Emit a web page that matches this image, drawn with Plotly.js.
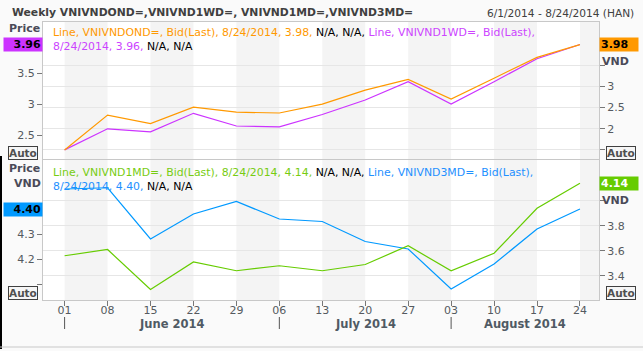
<!DOCTYPE html>
<html><head><meta charset="utf-8">
<script src="https://cdn.plot.ly/plotly-3.0.1.min.js"></script>
<style>html,body{margin:0;padding:0;background:#fafafa;}#c{width:643px;height:351px;}</style>
</head><body><div id="c"></div>
<script>
// ---- data ----
const dates = ['2014-06-01','2014-06-08','2014-06-15','2014-06-22','2014-06-29','2014-07-06','2014-07-13','2014-07-20','2014-07-27','2014-08-03','2014-08-10','2014-08-17','2014-08-24'];
const dayLabels = ['01','08','15','22','29','06','13','20','27','03','10','17','24'];
const months = ['June 2014','July 2014','August 2014'];
const vnivndond = [1.50, 2.32, 2.12, 2.51, 2.39, 2.37, 2.58, 2.91, 3.16, 2.70, 3.19, 3.68, 3.98];
const vnivnd1wd = [2.26, 2.60, 2.55, 2.85, 2.645, 2.63, 2.83, 3.065, 3.36, 3.00, 3.36, 3.73, 3.96];
const vnivnd1md = [3.56, 3.61, 3.29, 3.51, 3.44, 3.48, 3.44, 3.49, 3.64, 3.44, 3.58, 3.94, 4.14];
const vnivnd3md = [4.48, 4.485, 4.28, 4.38, 4.43, 4.36, 4.35, 4.27, 4.24, 4.08, 4.18, 4.32, 4.40];
const names = ['VNIVNDOND=','VNIVND1WD=','VNIVND1MD=','VNIVND3MD='];

// ---- style ----
const C = {ond:'#ff9900', w1:'#cc33ff', m1:'#66cc00', m3:'#0099ff'};
const F = 'DejaVu Sans';
const W=643, H=351, L=43, R=599, T=22, B=300;
const px2x = p => (p-L)/(R-L);
const py2y = p => (B-p)/(B-T);
const xRange = ['2014-05-28 11:30','2014-08-27 02:30'];
const tickFont = {family:F, size:11, color:'#555a60'};

function fmtDate(d){const [y,m,dd]=d.split('-');return (+m)+'/'+(+dd)+'/'+y;}
const lastDate = fmtDate(dates[dates.length-1]);
const last = a => a[a.length-1];

const traces = [
  {x:dates, y:vnivnd1wd, xaxis:'x2', yaxis:'y', type:'scatter', mode:'lines', line:{color:C.w1, width:1.2}, hoverinfo:'skip'},
  {x:dates, y:vnivndond, xaxis:'x2', yaxis:'y2', type:'scatter', mode:'lines', line:{color:C.ond, width:1.2}, hoverinfo:'skip'},
  {x:dates, y:vnivnd3md, xaxis:'x', yaxis:'y3', type:'scatter', mode:'lines', line:{color:C.m3, width:1.2}, hoverinfo:'skip'},
  {x:dates, y:vnivnd1md, xaxis:'x', yaxis:'y4', type:'scatter', mode:'lines', line:{color:C.m1, width:1.2}, hoverinfo:'skip'},
];

// shading bands (alternate weeks) from the dates array
const shapes = [];
for (let i=0;i<dates.length;i+=2){
  const x1 = i+1<dates.length ? dates[i+1] : '2014-08-31';
  shapes.push({type:'rect', xref:'x2', yref:'y domain', x0:dates[i], x1:x1, y0:0, y1:1, fillcolor:'#f4f4f4', line:{width:0}, layer:'below'});
  shapes.push({type:'rect', xref:'x', yref:'y3 domain', x0:dates[i], x1:x1, y0:0, y1:1, fillcolor:'#f4f4f4', line:{width:0}, layer:'below'});
}
// month separators
const monthStarts = [];
dates.forEach((d,i)=>{const m=d.slice(0,7); if(!monthStarts.find(s=>s.m===m)) monthStarts.push({m, d});});
monthStarts.forEach(s=>{
  shapes.push({type:'line', xref:'x', yref:'paper', x0:s.d, x1:s.d, y0:py2y(317), y1:py2y(329), line:{color:'#555555', width:1}});
});
// frame lines
shapes.push({type:'line', xref:'paper', yref:'paper', x0:px2x(1), x1:px2x(1), y0:py2y(156), y1:py2y(349), line:{color:'#000000', width:2}});
shapes.push({type:'line', xref:'paper', yref:'paper', x0:px2x(0), x1:px2x(643), y0:py2y(347), y1:py2y(347), line:{color:'#c8c8c8', width:1}});

const annotations = [];
const ms = t => new Date(t.replace(' ','T')+'Z').getTime();
monthStarts.forEach((s,i)=>{
  const a = ms(s.d), b = i+1<monthStarts.length ? ms(monthStarts[i+1].d) : ms(xRange[1]);
  const mid = new Date((a+b)/2).toISOString().replace('T',' ').slice(0,19);
  annotations.push({xref:'x', yref:'paper', x:mid, y:py2y(323.5), xanchor:'center', yanchor:'middle', text:'<b>'+months[i]+'</b>', showarrow:false, font:{family:F, size:11.5, color:'#505a64'}});
});

// header
annotations.push({xref:'paper', yref:'paper', x:px2x(10), y:py2y(13), xanchor:'left', yanchor:'middle', showarrow:false,
  text:'<b>Weekly '+names[0]+','+names[1]+', '+names[2]+','+names[3]+'</b>', font:{family:F, size:10.8, color:'#404040'}});
annotations.push({xref:'paper', yref:'paper', x:px2x(636), y:py2y(13), xanchor:'right', yanchor:'middle', showarrow:false,
  text:fmtDate(dates[0])+' - '+lastDate+' (HAN)', font:{family:F, size:10.6, color:'#404040'}});

// in-chart legends
function sp(c,t){return '<span style="color:'+c+'">'+t+'</span>';}
const topLeg = sp(C.ond,'Line, '+names[0]+', Bid(Last), '+lastDate+', '+last(vnivndond).toFixed(2)+', ')+sp('#000','N/A, N/A, ')+sp('#cc44ff','Line, '+names[1]+', Bid(Last),')+'<br>'+sp('#cc44ff',lastDate+', '+last(vnivnd1wd).toFixed(2)+', ')+sp('#000','N/A, N/A');
const botLeg = sp('#77cc11','Line, '+names[2]+', Bid(Last), '+lastDate+', '+last(vnivnd1md).toFixed(2)+', ')+sp('#000','N/A, N/A, ')+sp('#1e90ff','Line, '+names[3]+', Bid(Last),')+'<br>'+sp('#1e90ff',lastDate+', '+last(vnivnd3md).toFixed(2)+', ')+sp('#000','N/A, N/A');
annotations.push({xref:'paper', yref:'paper', x:px2x(51), y:py2y(23.5), xanchor:'left', yanchor:'top', align:'left', showarrow:false, text:topLeg, font:{family:F, size:10.9}});
annotations.push({xref:'paper', yref:'paper', x:px2x(51), y:py2y(163.5), xanchor:'left', yanchor:'top', align:'left', showarrow:false, text:botLeg, font:{family:F, size:10.9}});

// last-value boxes
function box(val, yref, side, bg, fc){
  annotations.push({xref:'paper', yref:yref, x: side==='left'?0:1, y:val, xanchor: side==='left'?'right':'left', yanchor:'middle',
    align: side==='left'?'right':'left', showarrow:false, text:'<b>'+val.toFixed(2)+'</b>', bgcolor:bg, width:36, height:11, borderpad:1,
    font:{family:F, size:11, color:fc}});
}
box(last(vnivnd1wd),'y','left',C.w1,'#000');
box(last(vnivndond),'y2','right',C.ond,'#000');
box(last(vnivnd3md),'y3','left',C.m3,'#000');
box(last(vnivnd1md),'y4','right',C.m1,'#fff');

// axis unit labels
function lbl(t,x,y){annotations.push({xref:'paper', yref:'paper', x:px2x(x), y:py2y(y), xanchor:'center', yanchor:'middle', showarrow:false, text:'<b>'+t+'</b>', font:{family:F, size:11, color:'#4a4a58'}});}
lbl('Price',24.5,29); lbl('VND',615,61);
lbl('Price',24.5,168); lbl('VND',27,183); lbl('VND',615,200);
// Auto boxes
function auto(x,y){annotations.push({xref:'paper', yref:'paper', x:px2x(x), y:py2y(y), xanchor:'center', yanchor:'middle', showarrow:false, text:'<b>Auto</b>', bgcolor:'#f6f6f6', bordercolor:'#404040', borderwidth:1, borderpad:0, font:{family:F, size:10.5, color:'#505050'}});}
auto(22.5,152.5); auto(620.5,153); auto(22.5,293); auto(620.5,292.5);

const yBase = {showline:true, linecolor:'#c8c8c8', linewidth:1, ticks:'outside', ticklen:5, tickcolor:'#777', tickfont:tickFont, zeroline:false, fixedrange:true};
const layout = {
  width:W, height:H, margin:{l:L, r:W-R, t:T, b:H-B},
  paper_bgcolor:'#fafafa', plot_bgcolor:'#ffffff', showlegend:false,
  font:{family:F, size:11},
  xaxis:{type:'date', range:xRange, domain:[0,1], anchor:'y3', tickmode:'array', tickvals:dates, ticktext:dayLabels,
    ticks:'outside', ticklen:5, tickcolor:'#777', tickfont:tickFont, ticklabelstandoff:-5, showgrid:false, showline:true, linecolor:'#c8c8c8', mirror:true, zeroline:false},
  xaxis2:{type:'date', range:xRange, domain:[0,1], anchor:'y', matches:'x', showticklabels:false, ticks:'', showgrid:false, showline:true, linecolor:'#c8c8c8', mirror:true},
  yaxis:Object.assign({}, yBase, {domain:[py2y(159),1], anchor:'x2', side:'left', range:[2.113,4.323], tickmode:'array', tickvals:[2.5,3,3.5,4], ticktext:['2.5','3','3.5',''], showgrid:false}),
  yaxis2:Object.assign({}, yBase, {overlaying:'y', anchor:'x2', side:'right', range:[1.288,4.512], tickmode:'array', tickvals:[1.5,2,2.5,3,3.5], ticktext:['','2','2.5','3',''], showgrid:true, gridcolor:'#e6e6e6'}),
  yaxis3:Object.assign({}, yBase, {domain:[0,py2y(160)], anchor:'x', side:'left', range:[4.036,4.596], tickmode:'array', tickvals:[4.1,4.2,4.3,4.4], ticktext:['','4.2','4.3',''], showgrid:false}),
  yaxis4:Object.assign({}, yBase, {overlaying:'y3', anchor:'x', side:'right', range:[3.206,4.326], tickmode:'array', tickvals:[3.4,3.6,3.8,4.0], ticktext:['3.4','3.6','3.8',''], showgrid:true, gridcolor:'#e6e6e6'}),
  shapes:shapes, annotations:annotations
};
Plotly.newPlot('c', traces, layout, {staticPlot:true, displayModeBar:false});
</script></body></html>
